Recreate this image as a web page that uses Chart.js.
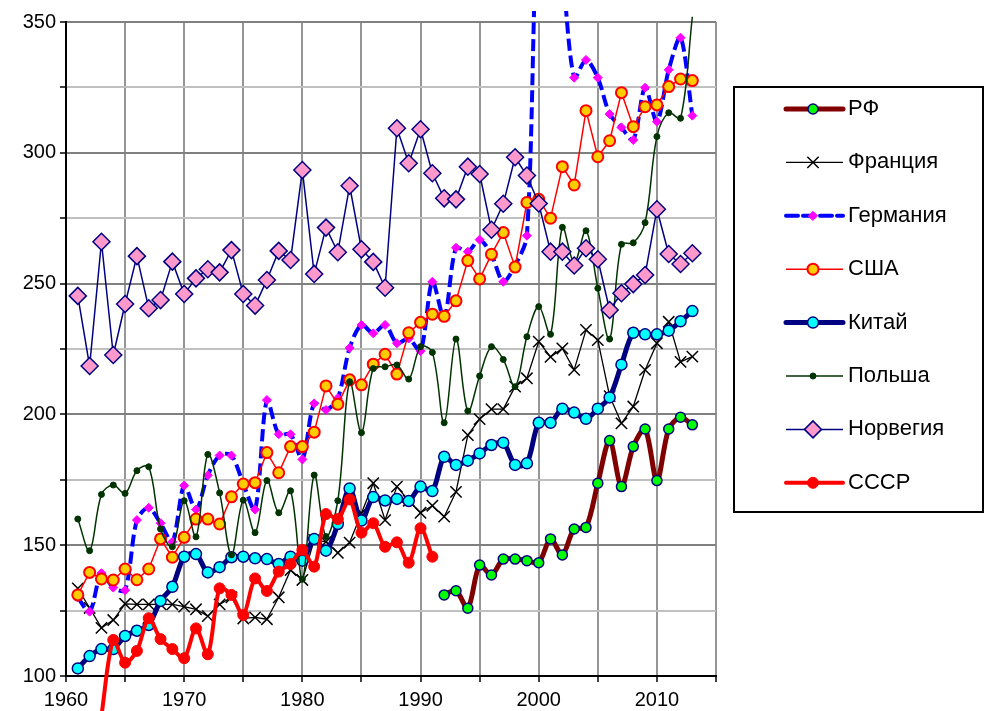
<!DOCTYPE html>
<html>
<head>
<meta charset="utf-8">
<script src="https://cdn.jsdelivr.net/npm/chart.js@4.4.1/dist/chart.umd.min.js"></script>
<style>
html,body{margin:0;padding:0;background:#fff;}
#wrap{width:986px;height:711px;}
</style>
</head>
<body>
<div id="wrap"><canvas id="chart" width="986" height="711"></canvas></div>
<script>

const years = [1961,1962,1963,1964,1965,1966,1967,1968,1969,1970,
1971,1972,1973,1974,1975,1976,1977,1978,1979,1980,
1981,1982,1983,1984,1985,1986,1987,1988,1989,1990,
1991,1992,1993,1994,1995,1996,1997,1998,1999,2000,
2001,2002,2003,2004,2005,2006,2007,2008,2009,2010,
2011,2012,2013];

const rf = [null,null,null,null,null,null,null,null,null,null,
null,null,null,null,null,null,null,null,null,null,
null,null,null,null,null,null,null,null,null,null,
null,131,132.6,125.9,142.4,138.6,144.7,144.7,144.1,143.3,
152.4,146.3,156.2,156.8,173.7,190,172.4,187.7,194.4,174.7,
194.4,198.9,196];

const france = [133.5,126,118.4,121.4,127.6,127.4,127.4,127.4,127.4,126.5,
125.5,122.9,127.4,130.1,122,122.4,121.7,130.1,140.5,136.7,
152,151.3,147.1,151,162.2,173.7,159.6,172.4,167,162.4,
165.1,160.9,170.4,192.1,198.2,202,202,210.6,213.8,227.8,
222,225.2,217,232.3,228.4,207,196.6,203,217,227.2,
235.4,220.1,222.1];

const germany = [130,124.6,139.3,133.8,132.8,159.6,164.3,158.4,151.3,172.8,
163.6,176.7,184.3,184.3,173.5,163.6,205.5,192.4,192.4,182.8,
204.2,201.7,206.2,225.4,234.2,231,234.2,227.2,229,224.2,
250.7,237,263.7,262.2,266.8,261,250.7,257,268.3,398,
405,370,328.7,335.5,328.7,314.8,309.7,304.9,324.9,311.9,
331.7,344,314.2];

const usa = [131,139.6,137.1,136.7,140.9,136.8,140.9,152.4,145.4,153,
160,160,158.1,168.5,173.4,173.9,185.4,177.7,187.7,187.7,
193.2,210.9,203.9,213.2,211.3,219.2,223,215.4,231.2,235.2,
238.3,237.5,243.4,258.8,251.8,261.2,269.5,256.3,281,282.2,
275,294.7,287.7,316.1,298.5,304.6,323,310,317.6,318.3,
325.3,328.2,327.6];

const china = [102.9,107.6,110.3,110.3,115.3,117.3,119.5,128.7,134.1,145.6,
146.6,139.6,141.6,145.4,145.6,145,144.7,142.8,145.6,144.1,
152.4,147.9,158.1,171.7,159.4,168.4,167.1,167.7,166.9,172.4,
170.7,183.8,180.7,182.3,185.1,188.3,189.2,180.7,181.3,196.8,
196.8,202.2,200.7,198.3,202.2,206.5,219,231.2,230.6,230.6,
232,235.6,239.5];

const poland = [160,147.9,169.4,173,169.8,178.5,180,156.2,149.4,167,
153.2,184.7,170,146.3,167.2,154.8,174.7,162.4,170.8,137,
176.8,153.3,167,212.5,193,217.5,218.2,218.9,213.5,225.9,
223.7,196.8,228.8,201.3,214.7,225.9,221,210.6,229.7,241.2,
230.6,271.5,258,270.2,248.2,228.8,265,265.6,273.3,306.2,
315.3,313.2,352];

const norway = [245.3,218.5,266,222.7,242.2,260.5,240.6,243.7,258.4,246,
252,255.5,254.3,262.8,246,241.6,251.4,262.5,259,293.4,
253.7,271.4,262,287.4,263.1,258.3,248.4,309.4,296,309,
292.2,282.6,282.2,294.7,291.9,270.6,280.5,298.3,291.3,280.6,
262.2,262.2,256.9,263.5,259.3,239.9,246.3,249.8,253.3,278.4,
261.3,257.5,261.6];

const ussr = [null,null,85,113.8,105.1,109.6,122.1,114.1,110.3,106.8,
118.2,108.3,133.5,131,123.3,137.3,132.5,139.9,142.8,148.2,
141.8,161.9,160,167.5,154.8,158.4,149.4,151.1,143.3,156.5,
145.6,null,null,null,null,null,null,null,null,null,
null,null,null,null,null,null,null,null,null,null,
null,null,null];

const xTicks = [1960,1970,1980,1990,2000,2010];
const yTicks = [100,150,200,250,300,350];

function pts(arr){
return years.map((x,i)=>({x:x,y:arr[i]}));
}

const clipArea = {left:10,top:11,right:10,bottom:40};

const legendBox = {
id:'legendBox',
afterDraw(chart){
const ctx = chart.ctx;
ctx.save();
ctx.strokeStyle = '#000';
ctx.lineWidth = 2;
ctx.strokeRect(734,87,249,425);
chart.data.datasets.forEach((ds,i)=>{
const y = 109 + i*53.4;
ctx.save();
ctx.strokeStyle = ds.borderColor;
ctx.lineWidth = ds.borderWidth;
ctx.lineCap = ds.borderWidth > 3 ? 'round' : 'butt';
ctx.setLineDash(ds.borderDash || []);
ctx.beginPath();
ctx.moveTo(786,y);
ctx.lineTo(843,y);
ctx.stroke();
ctx.setLineDash([]);
ctx.fillStyle = ds.pointBackgroundColor;
ctx.strokeStyle = ds.pointBorderColor;
ctx.lineWidth = ds.pointBorderWidth;
Chart.helpers.drawPoint(ctx,{
pointStyle:ds.pointStyle,
radius:ds.pointRadius,
borderWidth:ds.pointBorderWidth,
rotation:0
},813,y);
ctx.restore();
ctx.fillStyle = '#000';
ctx.font = '22px "Liberation Sans", Arial, sans-serif';
ctx.textBaseline = 'middle';
ctx.textAlign = 'left';
ctx.fillText(ds.label,848,y);
});
ctx.restore();
}
};

Chart.defaults.font.family = '"Liberation Sans", Arial, sans-serif';
Chart.defaults.color = '#000';

const ctx = document.getElementById("chart");

const chart = new Chart(ctx,{
type:"line",
data:{
datasets:[
{label:"РФ",data:pts(rf),borderColor:"#800000",borderWidth:5,tension:0.3,
pointStyle:"circle",pointRadius:5,pointBackgroundColor:"#00ff00",pointBorderColor:"#000080",pointBorderWidth:1.5,order:7},
{label:"Франция",data:pts(france),borderColor:"#000000",borderWidth:1.3,tension:0,
pointStyle:"crossRot",pointRadius:8,pointBackgroundColor:"#000000",pointBorderColor:"#000000",pointBorderWidth:1.5,order:6},
{label:"Германия",data:pts(germany),borderColor:"#0000ff",borderWidth:4,borderDash:[12,5],tension:0.3,
pointStyle:"rectRot",pointRadius:4.5,pointBackgroundColor:"#ff00ff",pointBorderColor:"#ff00ff",pointBorderWidth:1,order:5},
{label:"США",data:pts(usa),borderColor:"#ff0000",borderWidth:1.5,tension:0,
pointStyle:"circle",pointRadius:5.5,pointBackgroundColor:"#ffcc00",pointBorderColor:"#ff0000",pointBorderWidth:2,order:4},
{label:"Китай",data:pts(china),borderColor:"#000080",borderWidth:5,tension:0.3,
pointStyle:"circle",pointRadius:5.5,pointBackgroundColor:"#00ffff",pointBorderColor:"#000080",pointBorderWidth:1.5,order:3},
{label:"Польша",data:pts(poland),borderColor:"#003300",borderWidth:1.5,tension:0.35,
pointStyle:"circle",pointRadius:3,pointBackgroundColor:"#003300",pointBorderColor:"#003300",pointBorderWidth:1,order:2},
{label:"Норвегия",data:pts(norway),borderColor:"#000080",borderWidth:1.5,tension:0,
pointStyle:"rectRot",pointRadius:8.5,pointBackgroundColor:"#ff99cc",pointBorderColor:"#000080",pointBorderWidth:1.5,order:1},
{label:"СССР",data:pts(ussr),borderColor:"#ff0000",borderWidth:4,tension:0.3,
pointStyle:"circle",pointRadius:5.5,pointBackgroundColor:"#ff0000",pointBorderColor:"#ff0000",pointBorderWidth:1,order:0}
].map(ds=>Object.assign(ds,{clip:clipArea,borderJoinStyle:'round',spanGaps:false,pointHoverRadius:ds.pointRadius}))
},
options:{
responsive:false,
animation:false,
events:[],
layout:{padding:{left:0,top:22,right:270,bottom:0}},
elements:{line:{capBezierPoints:false}},
plugins:{
legend:{display:false},
tooltip:{enabled:false}
},
scales:{
x:{
type:"linear",
min:1960,
max:2015,
afterFit:(s)=>{s.height = 35;},
ticks:{
stepSize:5,
autoSkip:false,
maxRotation:0,
padding:6,
font:{size:20},
callback:(v)=>xTicks.includes(v) ? String(v) : ""
},
grid:{color:"#969696",lineWidth:2,tickLength:6,tickColor:"#000",tickWidth:1.5},
border:{color:"#000",width:2}
},
y:{
min:100,
max:350,
afterFit:(s)=>{s.width = 66;},
ticks:{
stepSize:25,
autoSkip:false,
padding:4,
font:{size:20},
callback:(v)=>yTicks.includes(v) ? String(v) : ""
},
grid:{
color:(c)=>(c.tick && c.tick.value % 50 === 0) ? "#808080" : "#c0c0c0",
lineWidth:2,tickLength:6,tickColor:"#000",tickWidth:1.5
},
border:{color:"#000",width:2}
}
}
},
plugins:[legendBox]
});

</script>
</body>
</html>
